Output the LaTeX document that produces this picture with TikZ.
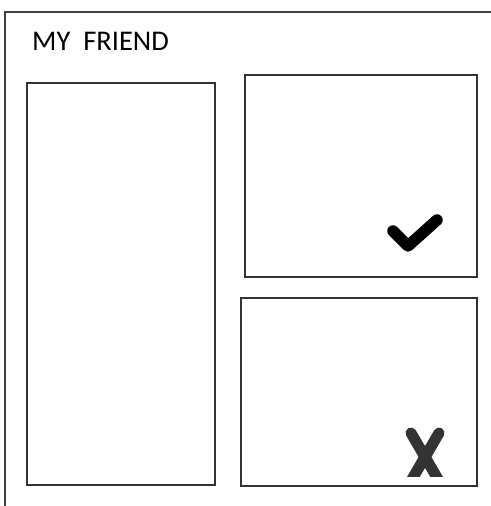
\documentclass[tikz,border=0pt]{standalone}
\usepackage{fontspec}
\setmainfont{Carlito}
\begin{document}
\begin{tikzpicture}[x=1pt,y=-1pt,
  frame/.style={draw=black!75,line width=1.4pt},
  panel/.style={draw=black!80,line width=1.3pt}]
\useasboundingbox (0,0) rectangle (490,506);
\fill[white] (0,0) rectangle (490,506);
% outer frame (open to right and bottom)
\coordinate (ftr) at (495,12);
\coordinate (ftl) at (5,12);
\coordinate (fbl) at (5,510);
\draw[frame] (ftr) -- (ftl) -- (fbl);
\node[anchor=base west,inner sep=0pt,font=\fontsize{28.5}{32}\selectfont] (title) at (32,50) {MY\ \ FRIEND};
% panels
\draw[panel] (27,83) rectangle (215,485);
\draw[panel] (245,75) rectangle (477,277);
\draw[panel] (241,298) rectangle (477,486);
% check mark
\coordinate (c1) at (393,231);
\coordinate (c2) at (408,246);
\coordinate (c3) at (437,220);
\draw[line width=11.5pt,line cap=round,line join=round] (c1) -- (c2) -- (c3);
% cross mark
\begin{scope}
\clip (395,420) rectangle (455,476);
\coordinate (x1) at (411,433);
\coordinate (x2) at (439,481);
\coordinate (x3) at (439,433);
\coordinate (x4) at (411,481);
\draw[black!80,line width=11pt,line cap=round] (x1) -- (x2);
\draw[black!80,line width=11pt,line cap=round] (x3) -- (x4);
\end{scope}
\end{tikzpicture}
\end{document}
